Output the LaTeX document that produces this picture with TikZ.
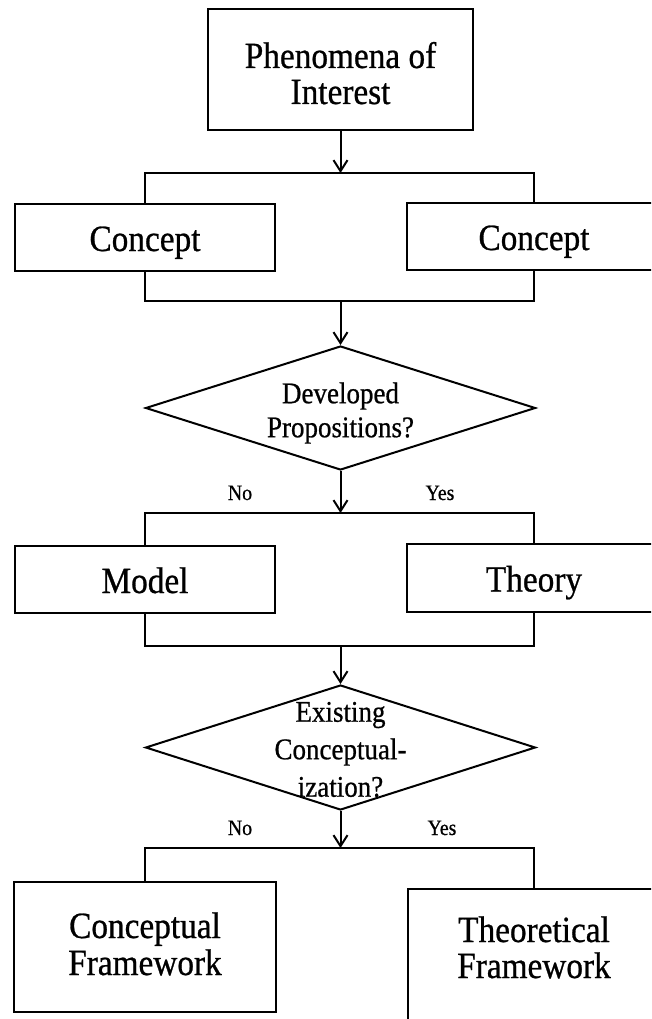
\documentclass[tikz,border=0pt]{standalone}
\usepackage{fontspec}
\setmainfont[FakeStretch=0.9,FakeBold=0.7]{Liberation Serif}
\usetikzlibrary{shapes.geometric,arrows.meta}
\begin{document}
\begin{tikzpicture}[x=1pt,y=-1pt,
  box/.style={draw, line width=2pt, rectangle, inner sep=0pt, align=center,
    font=\fontsize{37}{36}\selectfont},
  onebox/.style={box, text height=27pt, text depth=0pt},
  decision/.style={draw, line width=2pt, diamond, inner sep=0pt,
    minimum width=390pt, minimum height=124pt},
  qtext/.style={align=center, inner sep=0pt},
  answer/.style={anchor=base, inner sep=0pt, font=\fontsize{22}{24}\selectfont},
  link/.style={line width=2pt},
  flow/.style={line width=2pt, -{Straight Barb[length=11pt,width=14pt]}}]

\useasboundingbox (0,0) rectangle (651,1019);
\clip (0,0) rectangle (651,1019);

% starting point (text height/depth measured to the last line's baseline)
\node[box, minimum width=265pt, minimum height=121pt, text height=69pt, text depth=0pt]
  (phen) at (340.5,69.5) {Phenomena of\\Interest};

% concepts
\coordinate (j1) at (340.5,173);
\coordinate (j2) at (340.5,301);
\node[onebox, minimum width=260pt, minimum height=67pt] (conL) at (145,237.5) {Concept};
\node[onebox, minimum width=254pt, minimum height=67pt] (conR) at (534,236.5) {Concept};

% first decision
\node[decision, label={[qtext, yshift=-5pt, font=\fontsize{30}{34}\selectfont]center:{Developed\\Propositions?}}]
  (d1) at (340.5,408) {};

% model / theory
\coordinate (j3) at (340.5,513);
\coordinate (j4) at (340.5,646);
\node[onebox, minimum width=260pt, minimum height=67pt] (model) at (145,579.5) {Model};
\node[onebox, minimum width=254pt, minimum height=68pt] (theory) at (534,578) {Theory};

% second decision
\node[decision, minimum height=125pt, label={[qtext, yshift=-2pt, font=\fontsize{30}{37.5}\selectfont]center:{Existing\\Conceptual-\\ization?}}]
  (d2) at (340.5,747.5) {};

% frameworks
\coordinate (j5) at (340.5,848);
\node[box, font=\fontsize{37}{37}\selectfont, minimum width=262pt, minimum height=130pt,
  text height=56pt, text depth=0pt] (cf) at (145,947) {Conceptual\\Framework};
\node[box, font=\fontsize{37}{36}\selectfont, minimum width=252pt, minimum height=141pt,
  text height=37pt, text depth=0pt] (tf) at (534,959.5) {Theoretical\\Framework};

% answer labels
\node[answer] (no1) at (240,500) {No};
\node[answer] (yes1) at (440,500) {Yes};
\node[answer] (no2) at (240,835) {No};
\node[answer] (yes2) at (442,835) {Yes};

% connectors
\draw[flow] (phen.south) -- (j1);
\draw[link] (conL.north) |- (j1) -| (conR.north);
\draw[link] (conL.south) |- (j2) -| (conR.south);
\draw[flow] (j2) -- (d1.north);
\draw[flow] (d1.south) -- (j3);
\draw[link] (model.north) |- (j3) -| (theory.north);
\draw[link] (model.south) |- (j4) -| (theory.south);
\draw[flow] (j4) -- (d2.north);
\draw[flow] (d2.south) -- (j5);
\draw[link] (cf.north) |- (j5) -| (tf.north);
\end{tikzpicture}
\end{document}
